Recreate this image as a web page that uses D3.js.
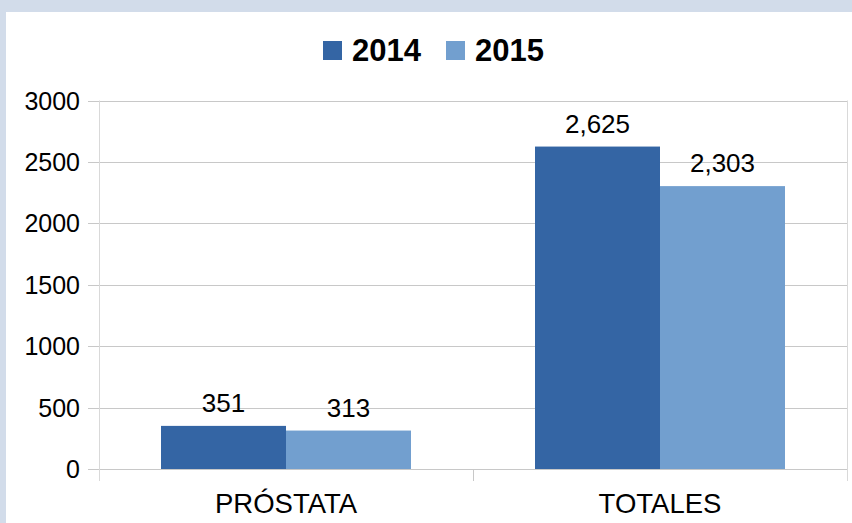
<!DOCTYPE html>
<html><head><meta charset="utf-8">
<script src="https://cdn.jsdelivr.net/npm/d3@7"></script>
<style>body{margin:0;background:#d2dcea;}svg{display:block;font-family:"Liberation Sans",Arial,sans-serif;}</style>
</head><body>
<svg id="c" width="852" height="523"></svg>
<script>
const categories = ["PRÓSTATA", "TOTALES"];
const seriesNames = ["2014", "2015"];
const values2014 = [351, 2625];
const values2015 = [313, 2303];
const yTicks = [0, 500, 1000, 1500, 2000, 2500, 3000];
const colors = ["#3465a4", "#729fcf"];

const svg = d3.select("#c");
svg.append("rect").attr("x",0).attr("y",0).attr("width",852).attr("height",523).attr("fill","#d2dcea");
svg.append("rect").attr("x",6).attr("y",12).attr("width",846).attr("height",511).attr("fill","#fff");

const L=99, R=847, T=100.5, B=469;
const x = d3.scaleBand().domain(categories).range([L,R]);
const xs = d3.scaleBand().domain(seriesNames).range([0, x.bandwidth()]).paddingOuter(0.496);
const y = d3.scaleLinear().domain([0,3000]).range([B,T]);

svg.append("g").selectAll("line").data(yTicks).join("line")
  .attr("x1",88).attr("x2",R).attr("y1",d=>Math.round(y(d))+0.5).attr("y2",d=>Math.round(y(d))+0.5)
  .attr("stroke","#c8c8c8").attr("stroke-width",1);
svg.append("line").attr("x1",L+0.5).attr("x2",L+0.5).attr("y1",T).attr("y2",481).attr("stroke","#d9d9d9");
svg.append("line").attr("x1",R+0.5).attr("x2",R+0.5).attr("y1",T).attr("y2",481).attr("stroke","#d9d9d9");
svg.append("line").attr("x1",x("TOTALES")+0.5).attr("x2",x("TOTALES")+0.5).attr("y1",B).attr("y2",481).attr("stroke","#c8c8c8");

svg.append("g").selectAll("text").data(yTicks).join("text")
  .attr("x",80).attr("y",d=>y(d)+9).attr("text-anchor","end")
  .attr("font-size",25).attr("fill","#000").text(d=>d);

const data = categories.map((c,i)=>({cat:c, vals:[values2014[i], values2015[i]]}));
const fmt = d3.format(",");
const g = svg.append("g").selectAll("g").data(data).join("g")
  .attr("transform",d=>`translate(${x(d.cat)},0)`);
g.selectAll("rect").data(d=>d.vals.map((v,j)=>({v,s:seriesNames[j],j}))).join("rect")
  .attr("x",d=>xs(d.s)).attr("width",xs.bandwidth())
  .attr("y",d=>y(d.v)).attr("height",d=>B-y(d.v)).attr("fill",d=>colors[d.j]);
g.selectAll("text").data(d=>d.vals.map((v,j)=>({v,s:seriesNames[j],j}))).join("text")
  .attr("x",d=>xs(d.s)+xs.bandwidth()/2).attr("y",d=>y(d.v)-14)
  .attr("text-anchor","middle").attr("font-size",26).attr("fill","#000").text(d=>fmt(d.v));

svg.append("g").selectAll("text").data(categories).join("text")
  .attr("x",d=>x(d)+x.bandwidth()/2).attr("y",513).attr("text-anchor","middle")
  .attr("font-size",27.5).attr("fill","#000").text(d=>d);

const lx=[323,446];
const lg = svg.append("g").selectAll("g").data(seriesNames).join("g");
lg.append("rect").attr("x",(d,i)=>lx[i]).attr("y",41).attr("width",19).attr("height",19).attr("fill",(d,i)=>colors[i]);
lg.append("text").attr("x",(d,i)=>lx[i]+29).attr("y",61).attr("font-size",31).attr("font-weight","bold").attr("fill","#000").text(d=>d);
</script>
</body></html>
